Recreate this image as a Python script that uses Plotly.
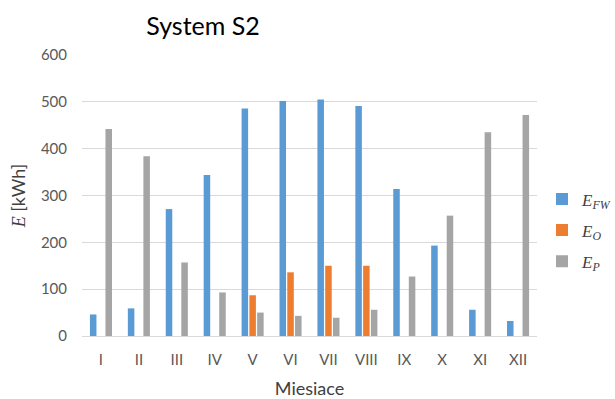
import plotly.graph_objects as go

months = ["I", "II", "III", "IV", "V", "VI", "VII", "VIII", "IX", "X", "XI", "XII"]
e_fw = [46, 59, 271, 344, 486, 502, 505, 491, 314, 193, 56, 32]
e_o = [0, 0, 0, 0, 87, 136, 150, 150, 0, 0, 0, 0]
e_p = [442, 384, 157, 93, 50, 43, 39, 56, 127, 257, 435, 472]
y_ticks = [0, 100, 200, 300, 400, 500, 600]

names = ["<i>E</i><sub><i>FW</i></sub>", "<i>E</i><sub><i>O</i></sub>", "<i>E</i><sub><i>P</i></sub>"]
colors = ["#5B9BD5", "#ED7D31", "#A5A5A5"]

fig = go.Figure()
for i, (vals, nm, c) in enumerate(zip([e_fw, e_o, e_p], names, colors)):
    fig.add_trace(go.Bar(x=months, y=vals, name=nm, legendgroup=f"g{i}",
                         marker=dict(color=c, line=dict(width=0))))

font = "Lato, 'Liberation Sans', sans-serif"
fig.update_layout(
    width=615, height=399,
    margin=dict(l=82, r=78, t=55, b=63, autoexpand=False),
    paper_bgcolor="white", plot_bgcolor="white",
    barmode="group", bargap=0.385, bargroupgap=0.16,
    font=dict(family=font, color="#595959", size=15),
    title=dict(text="System S2", x=203/615, xanchor="center", y=1-26/399, yanchor="middle",
               font=dict(family=font, size=25, color="#000000")),
    legend=dict(x=1.011, xanchor="left", y=0.55, yanchor="top",
                font=dict(family="'Liberation Serif', 'DejaVu Serif', serif", size=17, color="#404040"),
                tracegroupgap=6, itemwidth=30),
    showlegend=True,
)
fig.update_xaxes(showgrid=False, showline=True, linecolor="#D9D9D9", linewidth=1,
                 ticks="", ticklabelstandoff=10,
                 title=dict(text="Miesiace", font=dict(family=font, size=18, color="#404040"), standoff=16))
fig.update_yaxes(range=[0, 600], tickvals=y_ticks, showgrid=True, gridcolor="#D9D9D9", gridwidth=1,
                 zeroline=False, showline=False, ticks="", ticklabelstandoff=14,
                 title=dict(text="<i><span style='font-family:Liberation Serif'>E</span></i> [kWh]",
                            font=dict(family=font, size=18, color="#404040"), standoff=10))

fig.write_html("out.html", config={"displayModeBar": False},
               post_script="document.body.style.margin='0';document.body.style.overflow='hidden';")
